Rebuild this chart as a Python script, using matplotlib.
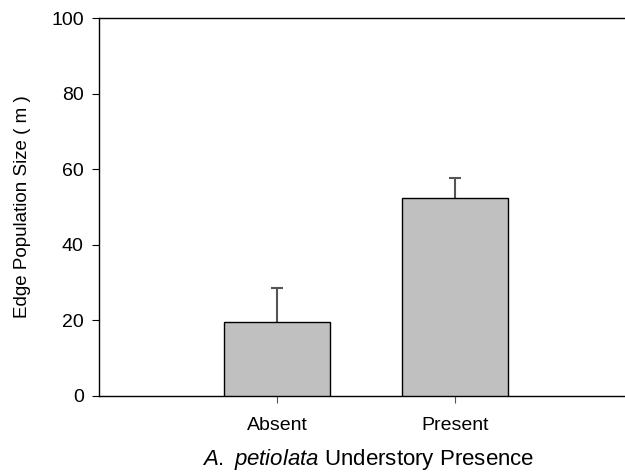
import numpy as np
import matplotlib
matplotlib.use('Agg')
import matplotlib.pyplot as plt

plt.rcParams['font.family'] = ['Liberation Sans', 'DejaVu Sans']
plt.rcParams['mathtext.fontset'] = 'custom'
plt.rcParams['mathtext.rm'] = 'Liberation Sans'
plt.rcParams['mathtext.it'] = 'Liberation Sans:italic'

# 数据
categories = ['Absent', 'Present']
means = [19.7, 52.3]
errors = [8.9, 5.5]

fig = plt.figure(figsize=(6.25, 4.76), dpi=100)
ax = fig.add_axes([99 / 625, 1 - 396 / 476, 525 / 625, 378 / 476])

x = np.arange(1, len(categories) + 1)
ax.bar(x, means, width=0.6, color='#c0c0c0', edgecolor='black', linewidth=1, zorder=3)
ax.errorbar(x, means, yerr=errors, fmt='none',
            ecolor='#555555', elinewidth=1.5, capsize=4, capthick=1.5, zorder=2)

ax.set_xlim(0, 2.95)
ax.set_ylim(0, 100)
ax.set_xticks(x)
ax.set_xticklabels(categories, fontsize=14)
ax.set_yticks(np.arange(0, 101, 20))
ax.tick_params(axis='y', labelsize=14, length=5, direction='out', pad=6)
ax.tick_params(axis='x', length=5, direction='out', pad=10, color='#555555')
ax.spines['right'].set_visible(False)
for s in ['left', 'top', 'bottom']:
    ax.spines[s].set_linewidth(1)

ax.set_ylabel('Edge Population Size ( m )', fontsize=13.5)
ax.yaxis.set_label_coords(-68 / 525, 0.5)
ax.set_xlabel('$\\it{A.}$ $\\it{petiolata}$ Understory Presence', fontsize=16)
ax.xaxis.set_label_coords(0.513, -51 / 378)

fig.savefig('out.png', dpi=100)
